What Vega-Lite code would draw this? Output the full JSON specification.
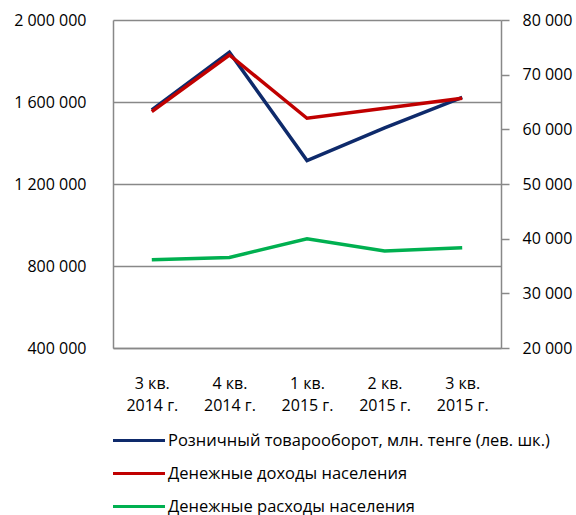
{
  "$schema": "https://vega.github.io/schema/vega-lite/v6.json",
  "width": 388,
  "height": 328,
  "autosize": {"type": "none"},
  "padding": {"left": 113, "top": 20, "right": 75, "bottom": 167},
  "background": "white",
  "data": {"values": [
    {"series": "Розничный товарооборот, млн. тенге (лев. шк.)", "quarter": "3 кв.|2014 г.", "value": 1561000},
    {"series": "Розничный товарооборот, млн. тенге (лев. шк.)", "quarter": "4 кв.|2014 г.", "value": 1843000},
    {"series": "Розничный товарооборот, млн. тенге (лев. шк.)", "quarter": "1 кв.|2015 г.", "value": 1314000},
    {"series": "Розничный товарооборот, млн. тенге (лев. шк.)", "quarter": "2 кв.|2015 г.", "value": 1474000},
    {"series": "Розничный товарооборот, млн. тенге (лев. шк.)", "quarter": "3 кв.|2015 г.", "value": 1623000},
    {"series": "Денежные доходы населения", "quarter": "3 кв.|2014 г.", "value": 63240},
    {"series": "Денежные доходы населения", "quarter": "4 кв.|2014 г.", "value": 73600},
    {"series": "Денежные доходы населения", "quarter": "1 кв.|2015 г.", "value": 62030},
    {"series": "Денежные доходы населения", "quarter": "2 кв.|2015 г.", "value": 63860},
    {"series": "Денежные доходы населения", "quarter": "3 кв.|2015 г.", "value": 65690},
    {"series": "Денежные расходы населения", "quarter": "3 кв.|2014 г.", "value": 36140},
    {"series": "Денежные расходы населения", "quarter": "4 кв.|2014 г.", "value": 36560},
    {"series": "Денежные расходы населения", "quarter": "1 кв.|2015 г.", "value": 39980},
    {"series": "Денежные расходы населения", "quarter": "2 кв.|2015 г.", "value": 37730},
    {"series": "Денежные расходы населения", "quarter": "3 кв.|2015 г.", "value": 38330}
  ]},
  "encoding": {
    "x": {
      "field": "quarter", "type": "ordinal", "sort": null,
      "scale": {"type": "point", "padding": 0.5},
      "axis": {
        "title": null, "labelAngle": 0, "ticks": false, "domainColor": "#888888", "domainWidth": 1.5,
        "labelExpr": "split(datum.label, '|')", "labelLineHeight": 22, "labelPadding": 35,
        "labelBaseline": "middle", "labelFontSize": 16, "labelFont": "Open Sans", "labelColor": "#000000"
      }
    },
    "color": {
      "field": "series", "type": "nominal",
      "scale": {
        "domain": ["Розничный товарооборот, млн. тенге (лев. шк.)", "Денежные доходы населения", "Денежные расходы населения"],
        "range": ["#0E2A6B", "#C00000", "#00B050"]
      },
      "legend": {
        "title": null, "orient": "none", "legendX": 9.5, "legendY": 404, "direction": "vertical",
        "symbolType": "M-1.733,0H1.733", "symbolSize": 900, "symbolStrokeWidth": 3, "rowPadding": 8,
        "labelOffset": 12.5, "labelFontSize": 16.5, "labelFont": "Open Sans", "labelColor": "#000000", "labelLimit": 500
      }
    }
  },
  "layer": [
    {
      "transform": [{"filter": "datum.series === 'Розничный товарооборот, млн. тенге (лев. шк.)'"}],
      "mark": {"type": "line", "strokeWidth": 3.5},
      "encoding": {
        "y": {
          "field": "value", "type": "quantitative",
          "scale": {"domain": [400000, 2000000], "nice": false, "zero": false},
          "axis": {
            "title": null, "orient": "left", "values": [400000, 800000, 1200000, 1600000, 2000000],
            "labelExpr": "replace(format(datum.value, ','), regexp(',', 'g'), ' ')",
            "ticks": false, "labelPadding": 27, "grid": true, "gridColor": "#888888", "gridWidth": 1.5,
            "domainColor": "#888888", "domainWidth": 1.5,
            "labelFontSize": 16, "labelFont": "Open Sans", "labelColor": "#000000"
          }
        }
      }
    },
    {
      "transform": [{"filter": "datum.series !== 'Розничный товарооборот, млн. тенге (лев. шк.)'"}],
      "mark": {"type": "line", "strokeWidth": 3.5},
      "encoding": {
        "y": {
          "field": "value", "type": "quantitative",
          "scale": {"domain": [20000, 80000], "nice": false, "zero": false},
          "axis": {
            "title": null, "orient": "right", "values": [20000, 30000, 40000, 50000, 60000, 70000, 80000],
            "labelExpr": "replace(format(datum.value, ','), regexp(',', 'g'), ' ')",
            "ticks": true, "tickSize": 8, "tickColor": "#888888", "tickWidth": 1.5,
            "labelPadding": 13, "grid": false,
            "domainColor": "#888888", "domainWidth": 1.5,
            "labelFontSize": 16, "labelFont": "Open Sans", "labelColor": "#000000"
          }
        }
      }
    }
  ],
  "resolve": {"scale": {"y": "independent"}},
  "config": {
    "view": {"stroke": null}
  }
}
